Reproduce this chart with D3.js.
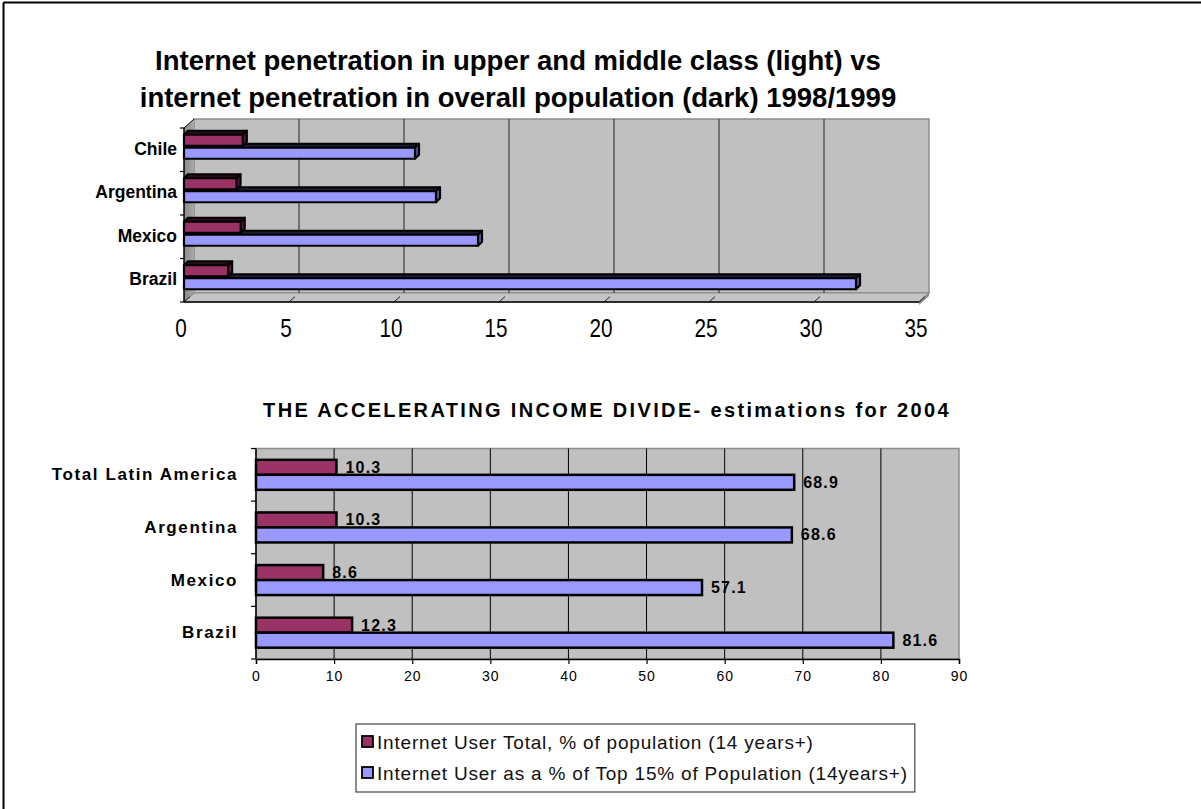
<!DOCTYPE html>
<html>
<head>
<meta charset="utf-8">
<script src="https://cdn.jsdelivr.net/npm/d3@7"></script>
<style>
  html, body { margin: 0; padding: 0; background: #ffffff; }
  svg { display: block; }
  text { font-family: "Liberation Sans", Arial, sans-serif; }
</style>
</head>
<body>
<svg id="chart" width="1201" height="809"></svg>
<script>
// ---- Upper panel: 1998/1999 penetration (3-D bars) ----
const penCountries = ["Chile", "Argentina", "Mexico", "Brazil"];
const penOverall   = [2.8, 2.5, 2.7, 2.1];     // dark bars
const penUpper     = [11, 12, 14, 32];         // light bars
const penTicks     = [0, 5, 10, 15, 20, 25, 30, 35];
const penTitle1 = "Internet penetration in upper and middle class (light) vs";
const penTitle2 = "internet penetration in overall population (dark) 1998/1999";

// ---- Lower panel: 2004 estimates ----
const estCountries = ["Total Latin America", "Argentina", "Mexico", "Brazil"];
const estTotal     = [10.3, 10.3, 8.6, 12.3];
const estTop15     = [68.9, 68.6, 57.1, 81.6];
const estTicks     = [0, 10, 20, 30, 40, 50, 60, 70, 80, 90];
const estTitle = "THE ACCELERATING INCOME DIVIDE- estimations for 2004";
const seriesNames = [
  "Internet User Total, % of population (14 years+)",
  "Internet User as a % of Top 15% of Population (14years+)"
];

const MAROON = "#993366", LAVENDER = "#9999ff";
const svg = d3.select("#chart");

// page frame
svg.append("line").attr("x1", 3.5).attr("y1", 2.5).attr("x2", 1201).attr("y2", 2.5)
  .attr("stroke", "#000").attr("stroke-width", 2);
svg.append("line").attr("x1", 3.5).attr("y1", 2.5).attr("x2", 3.5).attr("y2", 809)
  .attr("stroke", "#000").attr("stroke-width", 2);

// ================= Upper panel =================
{
  const x = d3.scaleLinear().domain([0, 35]).range([184, 919]);
  const y = d3.scaleBand().domain(penCountries).range([128, 302]);
  const DX = 10, DY = -9;           // wall depth offset
  const y0 = y.range()[0], y1 = y.range()[1];
  const g = svg.append("g");

  // back wall
  g.append("rect").attr("x", x(0) + DX).attr("y", y0 + DY)
    .attr("width", x(35) - x(0)).attr("height", y1 - y0)
    .attr("fill", "#c0c0c0").attr("stroke", "#8c8c8c").attr("stroke-width", 1.5);

  // side wall
  const grad = svg.append("defs").append("linearGradient").attr("id", "sideWall")
    .attr("x1", 0).attr("x2", 1).attr("y1", 0).attr("y2", 0);
  grad.append("stop").attr("offset", 0).attr("stop-color", "#8a8a8a");
  grad.append("stop").attr("offset", 1).attr("stop-color", "#a8a8a8");
  g.append("polygon")
    .attr("points", [[x(0), y0], [x(0) + DX, y0 + DY], [x(0) + DX, y1 + DY], [x(0), y1]].join(" "))
    .attr("fill", "url(#sideWall)");

  // floor
  g.append("polygon")
    .attr("points", [[x(0), y1], [x(0) + DX, y1 + DY], [x(35) + DX, y1 + DY], [x(35), y1]].join(" "))
    .attr("fill", "#c4c4c4").attr("stroke", "#8c8c8c").attr("stroke-width", 1.2);
  g.append("polygon")
    .attr("points", [[x(35), y1], [x(35) + DX, y1 + DY], [x(35) + DX, y1 + DY + 3], [x(35), y1 + 3]].join(" "))
    .attr("fill", "#8c8c8c");

  // gridlines on the wall + floor slashes
  g.selectAll(".grid").data(penTicks.filter(t => t > 0 && t < 35)).join("line")
    .attr("x1", d => x(d) + DX).attr("x2", d => x(d) + DX)
    .attr("y1", y0 + DY).attr("y2", y1 + DY)
    .attr("stroke", "#222").attr("stroke-width", 1);
  g.selectAll(".slash").data(penTicks).join("line")
    .attr("x1", d => x(d)).attr("y1", y1)
    .attr("x2", d => x(d) + DX * 0.6).attr("y2", y1 + DY * 0.6)
    .attr("stroke", "#222").attr("stroke-width", 1);

  // bars (3-D boxes)
  const BD = 4, BH = 11;
  function box(v, top, fill, topFill, sideFill) {
    const xa = x(0), xb = x(v);
    const bg = g.append("g").attr("stroke", "#000").attr("stroke-width", 2.2).attr("stroke-linejoin", "round");
    bg.append("polygon").attr("points", [[xa, top], [xa + BD, top - BD], [xb + BD, top - BD], [xb, top]].join(" "))
      .attr("fill", topFill);
    bg.append("polygon").attr("points", [[xb, top], [xb + BD, top - BD], [xb + BD, top + BH - BD], [xb, top + BH]].join(" "))
      .attr("fill", sideFill);
    bg.append("rect").attr("x", xa).attr("y", top).attr("width", xb - xa).attr("height", BH)
      .attr("fill", fill);
  }
  penCountries.forEach((c, i) => {
    const cy = y(c) + y.bandwidth() / 2;
    box(penUpper[i], cy - 2, LAVENDER, "#1c1c30", "#5c5ca0");
    box(penOverall[i], cy - 15, MAROON, "#2a0d1c", "#5a1e3c");
  });

  // axes lines
  g.append("line").attr("x1", x(0)).attr("x2", x(35)).attr("y1", y1).attr("y2", y1)
    .attr("stroke", "#000").attr("stroke-width", 1.5);
  g.append("line").attr("x1", x(0)).attr("x2", x(0)).attr("y1", y0).attr("y2", y1)
    .attr("stroke", "#000").attr("stroke-width", 1.5);
  g.append("line").attr("x1", x(0)).attr("x2", x(0) + DX).attr("y1", y0).attr("y2", y0 + DY)
    .attr("stroke", "#000").attr("stroke-width", 1);
  const bounds = penCountries.map(c => y(c)).concat([y1]);
  g.selectAll(".ytick").data(bounds).join("line")
    .attr("x1", x(0) - 4).attr("x2", x(0)).attr("y1", d => d).attr("y2", d => d)
    .attr("stroke", "#000").attr("stroke-width", 1.2);

  // x tick labels
  g.selectAll(".xlab").data(penTicks).join("text")
    .attr("transform", d => `translate(${x(d) - 3},337) scale(0.9,1.1)`)
    .attr("text-anchor", "middle").attr("font-size", 23).attr("fill", "#000")
    .text(d => d);

  // category labels
  g.selectAll(".ylab").data(penCountries).join("text")
    .attr("x", 177).attr("y", d => y(d) + y.bandwidth() / 2 - 1)
    .attr("text-anchor", "end").attr("dominant-baseline", "central")
    .attr("font-size", 17.5).attr("font-weight", "bold").attr("fill", "#000")
    .text(d => d);

  // title
  svg.append("text").attr("x", 518).attr("y", 69.5).attr("text-anchor", "middle")
    .attr("font-size", 27.5).attr("font-weight", "bold").text(penTitle1);
  svg.append("text").attr("x", 518).attr("y", 106.5).attr("text-anchor", "middle")
    .attr("font-size", 27.5).attr("font-weight", "bold").text(penTitle2);
}

// ================= Lower panel =================
{
  const x = d3.scaleLinear().domain([0, 90]).range([256, 959]);
  const y = d3.scaleBand().domain(estCountries).range([448.5, 659]);
  const g = svg.append("g");
  const [py0, py1] = y.range();

  g.append("rect").attr("x", x(0)).attr("y", py0).attr("width", x(90) - x(0)).attr("height", py1 - py0)
    .attr("fill", "#c0c0c0").attr("stroke", "#8c8c8c").attr("stroke-width", 1.5);

  g.selectAll(".grid").data(estTicks.filter(t => t > 0 && t < 90)).join("line")
    .attr("x1", d => x(d)).attr("x2", d => x(d)).attr("y1", py0).attr("y2", py1)
    .attr("stroke", "#000").attr("stroke-width", 1);

  const BH = 15;
  estCountries.forEach((c, i) => {
    const cy = y(c) + y.bandwidth() / 2;
    g.append("rect").attr("x", x(0)).attr("y", cy - BH).attr("width", x(estTotal[i]) - x(0)).attr("height", BH)
      .attr("fill", MAROON).attr("stroke", "#000").attr("stroke-width", 2.5);
    g.append("rect").attr("x", x(0)).attr("y", cy).attr("width", x(estTop15[i]) - x(0)).attr("height", BH)
      .attr("fill", LAVENDER).attr("stroke", "#000").attr("stroke-width", 2.5);
    g.append("text").attr("x", x(estTotal[i]) + 9).attr("y", cy - BH / 2)
      .attr("dominant-baseline", "central").attr("font-size", 16).attr("font-weight", "bold")
      .attr("letter-spacing", 1.2).text(estTotal[i]);
    g.append("text").attr("x", x(estTop15[i]) + 9).attr("y", cy + BH / 2)
      .attr("dominant-baseline", "central").attr("font-size", 16).attr("font-weight", "bold")
      .attr("letter-spacing", 1.2).text(estTop15[i]);
  });

  // axes
  const xAxis = d3.axisBottom(x).tickValues(estTicks).tickSize(5).tickFormat(d3.format("d"));
  const ax = g.append("g").attr("transform", `translate(0,${py1})`).call(xAxis);
  ax.select(".domain").attr("stroke", "#000").attr("stroke-width", 1.5);
  ax.selectAll(".tick line").attr("stroke", "#000").attr("stroke-width", 1.2);
  ax.selectAll(".tick text").attr("font-family", "Liberation Sans, Arial, sans-serif")
    .attr("font-size", 14).attr("fill", "#000").attr("y", 12).attr("letter-spacing", 1);

  g.append("line").attr("x1", x(0)).attr("x2", x(0)).attr("y1", py0).attr("y2", py1)
    .attr("stroke", "#000").attr("stroke-width", 1.5);
  const bounds = estCountries.map(c => y(c)).concat([py1]);
  g.selectAll(".ytick").data(bounds).join("line")
    .attr("x1", x(0) - 5).attr("x2", x(0)).attr("y1", d => d).attr("y2", d => d)
    .attr("stroke", "#000").attr("stroke-width", 1.2);

  g.selectAll(".ylab").data(estCountries).join("text")
    .attr("x", 238).attr("y", d => y(d) + y.bandwidth() / 2)
    .attr("text-anchor", "end").attr("dominant-baseline", "central")
    .attr("font-size", 17).attr("font-weight", "bold").attr("letter-spacing", 1.6)
    .text(d => d);

  svg.append("text").attr("x", 607).attr("y", 417).attr("text-anchor", "middle")
    .attr("font-size", 20).attr("font-weight", "bold").attr("letter-spacing", 2.35)
    .text(estTitle);

  // legend
  const lg = svg.append("g");
  const lx = 356, ly = 724, lh = 68;
  const items = lg.selectAll(".item").data(seriesNames).join("g")
    .attr("transform", (d, i) => `translate(${lx + 6},${ly + 18 + i * 31})`);
  items.append("rect").attr("x", 0).attr("y", -6).attr("width", 11).attr("height", 11)
    .attr("fill", (d, i) => i === 0 ? MAROON : LAVENDER).attr("stroke", "#000").attr("stroke-width", 1.8);
  items.append("text").attr("x", 15).attr("y", 0).attr("dominant-baseline", "central")
    .attr("font-size", 19).attr("letter-spacing", 0.8).attr("fill", "#111").text(d => d);
  let maxW = 0;
  items.selectAll("text").each(function () { maxW = Math.max(maxW, this.getComputedTextLength()); });
  lg.insert("rect", ":first-child").attr("x", lx).attr("y", ly).attr("width", maxW + 28).attr("height", lh)
    .attr("fill", "#fff").attr("stroke", "#444").attr("stroke-width", 1.2);
}
</script>
</body>
</html>
